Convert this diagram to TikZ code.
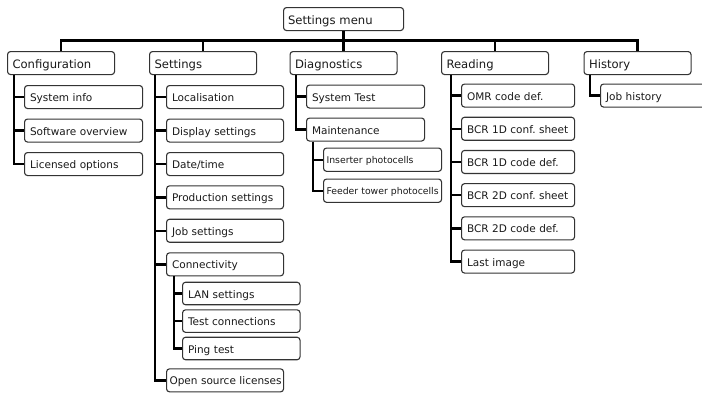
\documentclass[tikz,border=0pt]{standalone}
\usepackage{fontspec}
\setmainfont{DejaVu Sans}
\frenchspacing
\definecolor{boxc}{HTML}{333333}
\definecolor{txt}{HTML}{1A1A1A}
\tikzset{
  base/.style={draw=boxc, line width=1.1pt, rounded corners=3pt, fill=white, anchor=north west,
    inner ysep=0pt, align=left, text=txt},
  lone/.style={base, font=\fontsize{11.6}{13}\selectfont, inner xsep=5pt, text width=97pt,
    minimum height=23pt, text height=11.6pt, text depth=0pt},
  ltwo/.style={base, font=\fontsize{10.5}{12}\selectfont, inner xsep=5.5pt, text width=#1,
    minimum height=23pt, text height=9pt, text depth=0pt},
  lthree/.style={base, font=\fontsize{9.3}{11}\selectfont, inner xsep=3pt, text width=112pt,
    minimum height=23.3pt, text height=7.4pt, text depth=0pt},
  conn/.style={line width=2.3pt, black, line join=miter},
}
\begin{document}
\begin{tikzpicture}[x=1pt,y=-1pt]
\useasboundingbox (0,0) rectangle (702,392);
\fill[white] (0,0) rectangle (702,392);
\clip (0,0) rectangle (702,392);
\coordinate (bus) at (0,40.5);

% level 0 and 1
\node[lone, inner xsep=4.5pt, text width=111pt] (menu) at (283,7) {Settings menu};
\node[lone] (conf) at (7,51) {Configuration};
\node[lone] (sett) at (149,51) {Settings};
\node[lone] (diag) at (289.5,51) {Diagnostics};
\node[lone] (read) at (441,51) {Reading};
\node[lone] (hist) at (583.5,51) {History};

% Configuration children
\node[ltwo=107pt] (c1) at (24,85) {System info};
\node[ltwo=107pt] (c2) at (24,118.5) {Software overview};
\node[ltwo=107pt] (c3) at (24,152) {Licensed options};

% Settings children
\node[ltwo=106pt] (s1) at (166,85) {Localisation};
\node[ltwo=106pt] (s2) at (166,118.5) {Display settings};
\node[ltwo=106pt] (s3) at (166,152) {Date/time};
\node[ltwo=106pt] (s4) at (166,185.3) {Production settings};
\node[ltwo=106pt] (s5) at (166,218.7) {Job settings};
\node[ltwo=106pt] (s6) at (166,252.3) {Connectivity};
\node[ltwo=111pt, inner xsep=3pt] (s7) at (166,368.3) {\mbox{Open source licenses}};

% Connectivity children
\node[ltwo=106.5pt, minimum height=22.5pt] (n1) at (182,281.7) {LAN settings};
\node[ltwo=106.5pt, minimum height=22.5pt] (n2) at (182,309.3) {Test connections};
\node[ltwo=106.5pt, minimum height=22.5pt] (n3) at (182,336.7) {Ping test};

% Diagnostics children
\node[ltwo=107pt] (d1) at (306,84.5) {System Test};
\node[ltwo=107pt] (d2) at (306,117.5) {Maintenance};
\node[lthree] (m1) at (323,147.5) {Inserter photocells};
\node[lthree] (m2) at (323,178.5) {\mbox{Feeder tower photocells}};

% Reading children
\node[ltwo=102pt] (r1) at (461,83.5) {OMR code def.};
\node[ltwo=102pt] (r2) at (461,116.7) {\mbox{BCR 1D conf. sheet}};
\node[ltwo=102pt] (r3) at (461,149.9) {BCR 1D code def.};
\node[ltwo=102pt] (r4) at (461,183.1) {\mbox{BCR 2D conf. sheet}};
\node[ltwo=102pt] (r5) at (461,216.3) {BCR 2D code def.};
\node[ltwo=102pt] (r6) at (461,249.5) {Last image};

% History child
\node[ltwo=104pt] (h1) at (600,83.5) {Job history};

% bus
\draw[conn] (menu.south) -- (menu.south |- bus);
\draw[conn] (conf.north) -- (conf.north |- bus) -- (hist.north |- bus) -- (hist.north);
\draw[conn] (sett.north) -- (sett.north |- bus);
\draw[conn] (diag.north) -- (diag.north |- bus);
\draw[conn] (read.north) -- (read.north |- bus);

% trees
\coordinate (cv) at ([xshift=7pt]conf.south west);
\foreach \c in {c1,c2,c3} \draw[conn] (cv) |- (\c.west);
\coordinate (sv) at ([xshift=6pt]sett.south west);
\foreach \c in {s1,s2,s3,s4,s5,s6,s7} \draw[conn] (sv) |- (\c.west);
\coordinate (nv) at ([xshift=8pt]s6.south west);
\foreach \c in {n1,n2,n3} \draw[conn] (nv) |- (\c.west);
\coordinate (dv) at ([xshift=6.5pt]diag.south west);
\foreach \c in {d1,d2} \draw[conn] (dv) |- (\c.west);
\coordinate (mv) at ([xshift=7pt]d2.south west);
\foreach \c in {m1,m2} \draw[conn] (mv) |- (\c.west);
\coordinate (rv) at ([xshift=10pt]read.south west);
\foreach \c in {r1,r2,r3,r4,r5,r6} \draw[conn] (rv) |- (\c.west);
\coordinate (hv) at ([xshift=6.5pt]hist.south west);
\draw[conn] (hv) |- (h1.west);
\end{tikzpicture}
\end{document}
